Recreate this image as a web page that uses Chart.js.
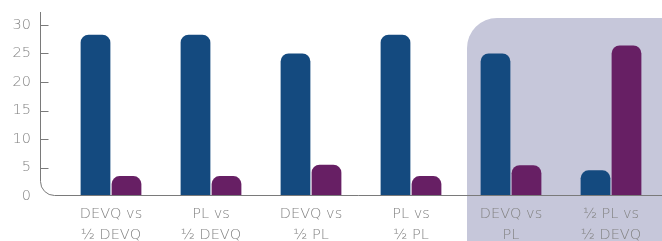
<!DOCTYPE html>
<html>
<head>
<meta charset="utf-8">
<script src="https://cdn.jsdelivr.net/npm/chart.js@4/dist/chart.umd.min.js"></script>
<style>
  html, body { margin: 0; padding: 0; background: #fff; }
  #wrap { width: 662px; height: 241px; }
</style>
</head>
<body>
<div id="wrap"><canvas id="chart"></canvas></div>
<script>
const categories = [
    ['DEVQ vs', '½ DEVQ'],
    ['PL vs', '½ DEVQ'],
    ['DEVQ vs', '½ PL'],
    ['PL vs', '½ PL'],
    ['DEVQ vs', 'PL'],
    ['½ PL vs', '½ DEVQ']
];
const blueValues = [28.3, 28.3, 25.0, 28.3, 25.0, 4.5];
const purpleValues = [3.5, 3.5, 5.5, 3.5, 5.4, 26.4];
const yTickValues = [0, 5, 10, 15, 20, 25, 30];
const highlightFrom = 4; // last two categories get the shaded panel

const textColor = '#838383';
const axisColor = '#7a7a7a';
const fontFamily = "'DejaVu Sans', sans-serif";

const axisDecor = {
    id: 'axisDecor',
    beforeDraw(chart) {
        const { ctx, scales: { x } } = chart;
        const left = (x.getPixelForValue(highlightFrom - 1) + x.getPixelForValue(highlightFrom)) / 2 + 6;
        const top = 18;
        const r = 30;
        ctx.save();
        ctx.fillStyle = '#c6c7da';
        ctx.beginPath();
        ctx.moveTo(left, chart.height);
        ctx.lineTo(left, top + r);
        ctx.arcTo(left, top, left + r, top, r);
        ctx.lineTo(chart.width, top);
        ctx.lineTo(chart.width, chart.height);
        ctx.closePath();
        ctx.fill();
        ctx.restore();
    },
    afterDatasetsDraw(chart) {
        const { ctx, chartArea, scales: { y } } = chart;
        const ax = 40.5;
        const bottom = Math.round(chartArea.bottom) - 0.5;
        const r = 14;
        ctx.save();
        ctx.strokeStyle = axisColor;
        ctx.lineWidth = 1;
        ctx.beginPath();
        ctx.moveTo(ax, 12);
        ctx.lineTo(ax, bottom - r);
        ctx.arcTo(ax, bottom, ax + r, bottom, r);
        ctx.lineTo(chart.width, bottom);
        ctx.stroke();
        yTickValues.filter(v => v > 0).forEach(v => {
            const py = Math.round(y.getPixelForValue(v)) + 0.5;
            ctx.beginPath();
            ctx.moveTo(ax, py);
            ctx.lineTo(ax + 8, py);
            ctx.stroke();
        });
        ctx.restore();
    }
};

const ctx = document.getElementById('chart').getContext('2d');

new Chart(ctx, {
    type: 'bar',
    data: {
        labels: categories,
        datasets: [{
            data: blueValues,
            backgroundColor: '#144a7f',
            borderRadius: { topLeft: 8, topRight: 8 },
            borderSkipped: 'bottom'
        }, {
            data: purpleValues,
            backgroundColor: '#671f64',
            borderRadius: { topLeft: 8, topRight: 8 },
            borderSkipped: 'bottom'
        }]
    },
    options: {
        responsive: true,
        maintainAspectRatio: false,
        devicePixelRatio: 1,
        animation: false,
        layout: {
            padding: { top: 25, right: 1, left: 0, bottom: 0 }
        },
        datasets: {
            bar: {
                categoryPercentage: 0.62,
                barPercentage: 0.96
            }
        },
        plugins: {
            legend: { display: false },
            tooltip: { enabled: false }
        },
        scales: {
            x: {
                grid: { display: false, drawTicks: false },
                border: { display: false },
                ticks: {
                    color: textColor,
                    font: { family: fontFamily, size: 14.5, weight: 200, lineHeight: 1.45 },
                    padding: 8,
                    maxRotation: 0,
                    autoSkip: false
                },
                afterFit: (scale) => { scale.height = 45; }
            },
            y: {
                min: 0,
                max: 30,
                grid: { display: false, drawTicks: false },
                border: { display: false },
                ticks: {
                    stepSize: 5,
                    color: textColor,
                    font: { family: fontFamily, size: 14.5, weight: 200 },
                    padding: 30
                },
                afterFit: (scale) => {
                    scale.width = 61;
                    scale.paddingTop = 0;
                    scale.paddingBottom = 0;
                }
            }
        }
    },
    plugins: [axisDecor]
});
</script>
</body>
</html>
